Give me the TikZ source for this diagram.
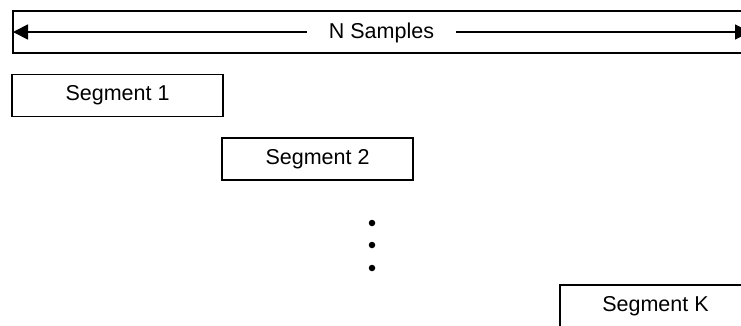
\documentclass[tikz,border=0pt]{standalone}
\usepackage{fontspec}
\setmainfont{Liberation Sans}
\usetikzlibrary{arrows.meta}
\begin{document}
\begin{tikzpicture}[x=1pt,y=-1pt,
  every node/.style={font=\fontsize{21.5}{26}\selectfont},
  segbox/.style={draw,line width=1.6pt,minimum height=42pt,inner sep=0pt},
  span/.style={line width=1.8pt,-{Triangle[length=15pt,width=15pt]}},
  dot/.style={fill,circle,inner sep=0pt,minimum size=6.5pt}]
\useasboundingbox (0,0) rectangle (741,325);
\clip (0,0) rectangle (741,325);
% overall sample range
\node[draw,line width=1.6pt,minimum height=42pt,minimum width=760pt,anchor=west,inner sep=0pt] (frame) at (12,32) {};
\node[inner xsep=22pt,inner ysep=2pt] (ns) at (381.5,33) {N Samples};
\coordinate (lend) at (13,32);
\coordinate (rend) at (750,32);
\draw[span] (ns.west |- lend) -- (lend);
\draw[span] (ns.east |- rend) -- (rend);
% segments
\node[segbox,minimum width=211pt] (s1) at (117.5,95.5) {Segment 1};
\node[segbox,minimum width=191pt] (s2) at (317.5,159) {Segment 2};
\node[segbox,minimum width=191pt] (sk) at (655.5,306) {Segment K};
% ellipsis
\node[dot] (d1) at (372,223) {};
\node[dot] (d2) at (372,245) {};
\node[dot] (d3) at (372,268) {};
\end{tikzpicture}
\end{document}
